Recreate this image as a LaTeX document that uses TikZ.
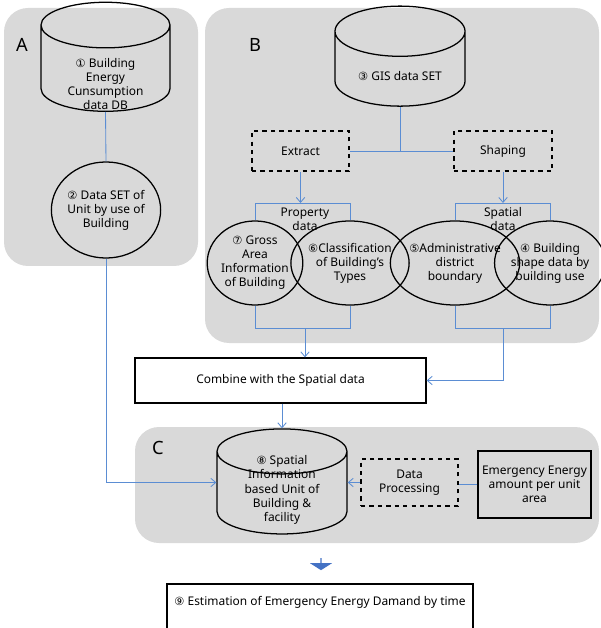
\documentclass[tikz,border=0pt]{standalone}
\usepackage{fontspec}
\setmainfont{Noto Sans}
\newfontfamily\circfont{DejaVu Sans}
\usetikzlibrary{shapes.geometric,shapes.arrows,arrows.meta,positioning}

\definecolor{pannello}{RGB}{217,217,217}
\definecolor{linea}{RGB}{91,141,211}
\definecolor{frecciona}{RGB}{68,114,196}

\newcommand{\cn}[1]{{\circfont\fontsize{8}{10}\selectfont #1}}
\newcommand{\abbassa}[2]{\raisebox{-#1}[0pt][0pt]{\begin{tabular}{@{}c@{}}#2\end{tabular}}}

\tikzset{
  dbcyl/.style={draw, line width=0.9pt, cylinder, shape border rotate=90, aspect=0.6, align=center, inner sep=0pt},
  ball/.style={draw, line width=0.9pt, ellipse, align=center, inner sep=0pt},
  dashbox/.style={draw, line width=0.9pt, dashed, align=center, inner sep=0pt},
  plainbox/.style={draw, line width=0.9pt, align=center, inner sep=0pt},
  conn/.style={draw=linea, line width=0.6pt},
  punta/.style={-{Straight Barb[length=3.5pt,width=6pt]}},
  lettera/.style={font=\fontsize{13}{15}\selectfont}
}

\begin{document}
\begin{tikzpicture}[x=0.025cm, y=-0.025cm, font=\fontsize{8.5}{10}\selectfont]
        \useasboundingbox (0,0) rectangle (600,628);

        % 1. Pannelli grigi A, B, C
        \fill[pannello, rounded corners=0.6cm] (4,8) rectangle (198,266);
        \fill[pannello, rounded corners=0.6cm] (205,8) rectangle (599,343);
        \fill[pannello, rounded corners=0.6cm] (135,427) rectangle (599,543);

        \node[lettera] (lblA) at (22,45) {A};
        \node[lettera] (lblB) at (255,45) {B};
        \node[lettera] (lblC) at (158,448) {C};

        % 2. Pannello A: database e insieme di dati
        \node[dbcyl, minimum width=3.225cm, minimum height=2.725cm] (db1) at (105.5,68.5)
            {\abbassa{0.51cm}{\cn{①} Building\\Energy\\Cunsumption\\data DB}};
        \node[ball, minimum width=2.7cm, minimum height=2.4cm] (set2) at (106,210)
            {\cn{②} Data SET of\\Unit by use of\\Building};

        % 3. Pannello B: dati GIS
        \node[dbcyl, minimum width=3.25cm, minimum height=2.5cm] (db3) at (400,69)
            {\abbassa{0.28cm}{\cn{③} GIS data SET}};
        \node[dashbox, minimum width=2.425cm, minimum height=1cm] (extract) at (300.5,151) {Extract};
        \node[dashbox, minimum width=2.45cm, minimum height=1cm] (shaping) at (503,151) {Shaping};

        \node[ball, minimum width=2.375cm, minimum height=2.1cm] (area7) at (255,263)
            {\cn{⑦} Gross\\Area\\Information\\of Building};
        \node[ball, minimum width=2.375cm, minimum height=2.1cm] (tipi6) at (350,263)
            {\cn{⑥}Classification\\of Building's\\Types};
        \node[ball, minimum width=2.375cm, minimum height=2.1cm] (conf5) at (455,263)
            {\cn{⑤}Administrative\\district\\boundary};
        \node[ball, minimum width=2.375cm, minimum height=2.1cm] (forma4) at (550,263)
            {\cn{④} Building\\shape data by\\building use};

        \node[align=center] (propr) at (305,219) {Property\\data};
        \node[align=center] (spaz) at (503,219) {Spatial\\data};

        % 4. Combinazione e pannello C
        \node[plainbox, fill=white, minimum width=7.275cm, minimum height=1.125cm] (combine) at (280.5,380.5)
            {Combine with the Spatial data};
        \node[dbcyl, minimum width=3.25cm, minimum height=2.625cm] (db8) at (282,493)
            {\abbassa{0cm}{\cn{⑧} Spatial\\Information\\based Unit of\\Building \&\\facility}};
        \node[dashbox, minimum width=2.425cm, minimum height=1.175cm] (proc) at (409.5,482.5)
            {Data\\Processing};
        \node[plainbox, minimum width=2.825cm, minimum height=1.675cm] (emerg) at (534.5,484.5)
            {Emergency Energy\\amount per unit\\area};

        % 5. Freccia blu e stima finale
        \node[single arrow, fill=frecciona, shape border rotate=270, inner sep=0pt,
              minimum height=0.3cm, minimum width=0.55cm,
              single arrow head extend=0.125cm, single arrow tip angle=115] (giu) at (321,564) {};
        \node[plainbox, fill=white, minimum width=7.65cm, minimum height=1.25cm] (stima) at (320,609)
            {\abbassa{-0.08cm}{\cn{⑨} Estimation of Emergency Energy Damand by time}};

        % 6. Collegamenti
        \coordinate (livSu) at (0,203);
        \coordinate (livGiu) at (0,328);
        \coordinate (propBot) at (305,328);
        \coordinate (spazBot) at (503,328);

        \draw[conn] (db1.south) -- (set2.north);
        \draw[conn, punta] (set2.south) |- (db8.west |- proc.west);

        \draw[conn] (db3.south) -- (db3.south |- extract.east);
        \draw[conn] (extract.east) -- (shaping.west);
        \draw[conn, punta] (extract.south) -- (extract.south |- livSu);
        \draw[conn, punta] (shaping.south) -- (shaping.south |- livSu);

        \draw[conn] (area7.north) -- (area7.north |- livSu) -- (tipi6.north |- livSu) -- (tipi6.north);
        \draw[conn] (conf5.north) -- (conf5.north |- livSu) -- (forma4.north |- livSu) -- (forma4.north);
        \draw[conn] (area7.south) -- (area7.south |- livGiu) -- (tipi6.south |- livGiu) -- (tipi6.south);
        \draw[conn] (conf5.south) -- (conf5.south |- livGiu) -- (forma4.south |- livGiu) -- (forma4.south);

        \draw[conn, punta] (propBot) -- (propBot |- combine.north);
        \draw[conn, punta] (spazBot) |- (combine.east);
        \draw[conn, punta] (db8.north |- combine.south) -- (db8.north);

        \draw[conn] (emerg.west) -- (emerg.west -| proc.east);
        \draw[conn, punta] (proc.west) -- (proc.west -| db8.east);

    \end{tikzpicture}
\end{document}
